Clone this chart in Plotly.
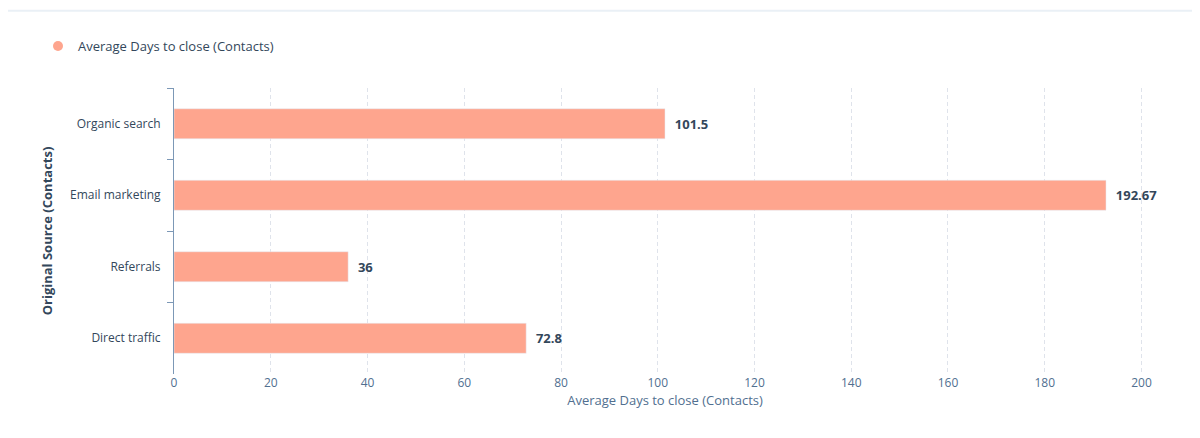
import plotly.graph_objects as go

sources = ["Organic search", "Email marketing", "Referrals", "Direct traffic"]
avg_days = [101.5, 192.67, 36, 72.8]
labels = ["101.5", "192.67", "36", "72.8"]
bar_color = "#fea58e"

fig = go.Figure(go.Bar(
    y=sources, x=avg_days, orientation="h",
    marker=dict(color=bar_color),
    text=["  " + t for t in labels], textposition="outside",
    textfont=dict(color="#33475b", size=13, family="Open Sans", weight="bold"),
    cliponaxis=False,
    showlegend=False,
))
# legend entry with a round marker
fig.add_trace(go.Scatter(
    x=[None], y=[None], mode="markers", name="Average Days to close (Contacts)",
    marker=dict(color=bar_color, size=10, symbol="circle"),
))

fig.update_layout(
    width=1200, height=438,
    paper_bgcolor="white", plot_bgcolor="white",
    margin=dict(l=166, r=52, t=80, b=72),
    font=dict(family="Open Sans", color="#33475b", size=12),
    bargap=0.58,
    legend=dict(orientation="h", xref="container", yref="container",
                x=0.025, y=0.913, xanchor="left", yanchor="middle",
                font=dict(size=13)),
    xaxis=dict(range=[0, 203], tick0=0, dtick=20, showgrid=True,
               gridcolor="#dfe3eb", griddash="4px,3px", zeroline=False,
               automargin=False,
               title=dict(text="Average Days to close (Contacts)", standoff=4,
                          font=dict(size=13, color="#516f90")),
               tickfont=dict(color="#516f90")),
    yaxis=dict(autorange="reversed", showline=True, linecolor="#7c98b6",
               ticks="outside", tickson="boundaries", tickcolor="#7c98b6",
               ticklen=6, showgrid=False, automargin=False,
               ticklabelstandoff=10,
               title=dict(text="<b>Original Source (Contacts)</b>", standoff=14,
                          font=dict(size=13, color="#33475b"))),
    shapes=[dict(type="line", xref="paper", yref="paper", x0=-0.2, x1=1.2,
                 y0=1.27, y1=1.27, line=dict(color="#eaf0f6", width=2))],
)

fig.write_html("out.html")
